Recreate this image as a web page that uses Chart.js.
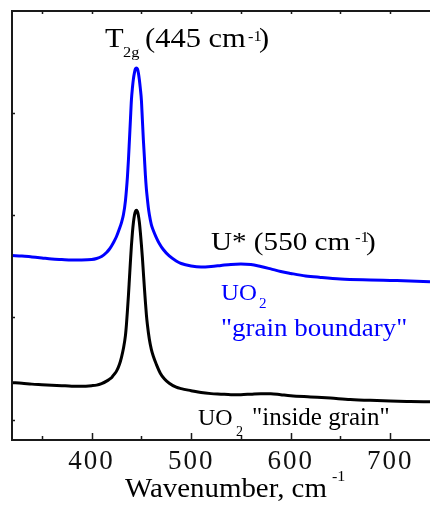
<!DOCTYPE html>
<html><head><meta charset="utf-8">
<script src="https://cdn.jsdelivr.net/npm/chart.js@4.4.1/dist/chart.umd.min.js"></script>
<style>html,body{margin:0;padding:0;background:#fff;}</style>
</head><body>
<canvas id="c" width="430" height="510"></canvas>
<script>
// Wavenumber (cm-1) samples and intensities (arb. units, offset spectra)
const blueX = [320,330,340,350,360,370,380,390,400,405,410,415,418,420,422,425,428,430,432,434,436,437,438,439,440,441,442,443,444,445,446,447,448,449,450,451,452,453,454,455,456,457,458,460,462,465,468,472,478,485,490,500,510,520,530,540,550,560,570,580,590,600,615,630,650,680,700,720,740];
const blueY = [1.606,1.602,1.592,1.582,1.572,1.567,1.563,1.563,1.567,1.577,1.597,1.636,1.670,1.699,1.733,1.792,1.870,1.929,2.007,2.144,2.378,2.544,2.739,2.935,3.130,3.247,3.335,3.394,3.433,3.442,3.433,3.394,3.325,3.237,3.130,2.935,2.739,2.573,2.397,2.261,2.163,2.075,2.007,1.909,1.851,1.782,1.724,1.665,1.602,1.553,1.528,1.504,1.494,1.499,1.509,1.519,1.523,1.519,1.499,1.475,1.450,1.431,1.406,1.392,1.377,1.367,1.362,1.357,1.350];
const blackX = [320,330,340,350,360,370,380,390,400,405,410,415,418,420,422,425,428,430,432,434,435,436,437,438,439,440,441,442,443,444,445,446,447,448,449,450,451,452,453,454,455,456,458,460,462,465,469,473,478,485,490,500,510,520,530,540,550,560,570,580,590,600,620,640,660,680,700,720,740];
const blackY = [0.361,0.356,0.347,0.342,0.337,0.332,0.327,0.327,0.332,0.337,0.352,0.376,0.396,0.410,0.435,0.474,0.542,0.610,0.698,0.825,0.933,1.069,1.216,1.382,1.548,1.704,1.831,1.929,1.997,2.036,2.049,2.036,1.997,1.929,1.831,1.714,1.587,1.440,1.294,1.157,1.030,0.933,0.786,0.688,0.620,0.542,0.454,0.400,0.356,0.317,0.303,0.283,0.264,0.254,0.249,0.244,0.244,0.249,0.254,0.254,0.244,0.234,0.222,0.210,0.197,0.188,0.181,0.177,0.174];
const xTicks = [350,400,450,500,550,600,650,700];
const xTickLabels = [400,500,600,700];
const yTicks = [0,1,2,3];
const seriesNames = ['UO2 "grain boundary"','UO2 "inside grain"'];

const FONT = '"Liberation Serif","Times New Roman",serif';

// Text annotations (pixel placement, rich text with sub/superscripts)
const labels = [
  {color:'#000', sx:1.09, parts:[
    {t:'T', x:105, y:47, size:28},
    {t:'2g', x:123, y:57, size:15},
    {t:'(445 cm', x:145, y:47, size:28},
    {t:'-1', x:248, y:41, size:15},
    {t:')', x:259, y:47, size:28}]},
  {color:'#000', sx:1.12, parts:[
    {t:'U* (550 cm', x:211, y:250, size:26},
    {t:'-1', x:355, y:242, size:15},
    {t:')', x:366, y:250, size:26}]},
  {color:'#0000ff', sx:1.08, parts:[
    {t:'UO', x:221, y:300, size:23},
    {t:'2', x:259, y:308, size:14},
    {t:'"grain boundary"', x:221, y:336, size:25}]},
  {color:'#000', sx:1.0, parts:[
    {t:'UO', x:198, y:425, size:24},
    {t:'2', x:236, y:436, size:14},
    {t:'"inside grain"', x:252, y:425, size:25}]},
  {color:'#000', sx:1.07, parts:[
    {t:'Wavenumber, cm', x:125, y:497, size:27},
    {t:'-1', x:332, y:481, size:15}]}
];

const framePlugin = {
  id:'frame',
  beforeDraw(chart){ chart.ctx.letterSpacing = '2px'; },
  afterDraw(chart){
    const ctx = chart.ctx, a = chart.chartArea, xs = chart.scales.x, ys = chart.scales.y;
    ctx.save();
    ctx.letterSpacing = '0px';
    ctx.strokeStyle = '#1a1a1a'; ctx.lineWidth = 2; ctx.lineCap='butt';
    ctx.beginPath();
    ctx.moveTo(a.right+2, a.top); ctx.lineTo(a.left, a.top); ctx.lineTo(a.left, a.bottom); ctx.lineTo(a.right+2, a.bottom);
    ctx.stroke();
    ctx.lineWidth = 1.5;
    ctx.beginPath();
    xs.ticks.forEach(t => {
      const px = Math.round(xs.getPixelForValue(t.value)) + 0.5;
      const major = xTickLabels.includes(t.value);
      ctx.moveTo(px, a.bottom); ctx.lineTo(px, a.bottom - (major ? 7 : 4));
      ctx.moveTo(px, a.top); ctx.lineTo(px, a.top + 3);
    });
    yTicks.forEach(v => {
      const py = Math.round(ys.getPixelForValue(v)) + 0.5;
      ctx.moveTo(a.left, py); ctx.lineTo(a.left + 3, py);
    });
    ctx.stroke();
    labels.forEach(l => {
      ctx.fillStyle = l.color;
      ctx.textBaseline = 'alphabetic';
      ctx.textAlign = 'left';
      l.parts.forEach(p => {
        ctx.save();
        ctx.translate(p.x, p.y);
        ctx.scale(l.sx, 1);
        ctx.font = p.size + 'px ' + FONT;
        ctx.fillText(p.t, 0, 0);
        ctx.restore();
      });
    });
    ctx.restore();
  }
};

new Chart(document.getElementById('c'), {
  type:'scatter',
  data:{ datasets:[
    {label:seriesNames[0], data:blueX.map((x,i)=>({x, y:blueY[i]})), showLine:true, borderColor:'#0000ff', borderWidth:3, pointRadius:0, cubicInterpolationMode:'monotone'},
    {label:seriesNames[1], data:blackX.map((x,i)=>({x, y:blackY[i]})), showLine:true, borderColor:'#000000', borderWidth:3, pointRadius:0, cubicInterpolationMode:'monotone'}
  ]},
  options:{
    responsive:false, animation:false, devicePixelRatio:1,
    layout:{padding:{left:12, top:11, right:0, bottom:0}},
    plugins:{legend:{display:false}, tooltip:{enabled:false}},
    elements:{point:{radius:0}},
    scales:{
      x:{type:'linear', min:320, max:740, position:'bottom',
        afterBuildTicks: s => { s.ticks = xTicks.map(v => ({value:v})); },
        afterFit: s => { s.height = 70; },
        grid:{display:false, drawTicks:false}, border:{display:false},
        title:{display:false, text:'Wavenumber, cm-1'},
        ticks:{autoSkip:false, maxRotation:0, minRotation:0, padding:6, color:'#111',
          font:{family:FONT, size:27},
          callback: v => xTickLabels.includes(v) ? String(v) : ''}
      },
      y:{min:-0.2, max:4.0, display:false}
    }
  },
  plugins:[framePlugin]
});
</script>
</body></html>
